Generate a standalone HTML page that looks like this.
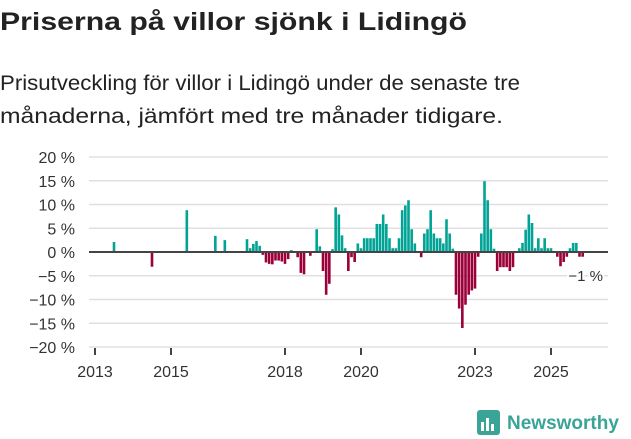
<!DOCTYPE html>
<html><head><meta charset="utf-8"><style>
html,body{margin:0;padding:0;background:#fff;}
svg{display:block;font-family:"Liberation Sans",sans-serif;}
</style></head><body>
<svg width="631" height="439" viewBox="0 0 631 439">
<text x="0" y="30" font-size="25" font-weight="bold" fill="#222" textLength="467" lengthAdjust="spacingAndGlyphs">Priserna på villor sjönk i Lidingö</text>
<text x="0" y="90" font-size="21" fill="#222" textLength="520" lengthAdjust="spacingAndGlyphs">Prisutveckling för villor i Lidingö under de senaste tre</text>
<text x="0" y="123" font-size="21" fill="#222" textLength="503" lengthAdjust="spacingAndGlyphs">månaderna, jämfört med tre månader tidigare.</text>
<g id="grid"></g>
<g id="bars"></g>
<g id="xaxis"></g>
<line x1="89" x2="608" y1="252" y2="252" stroke="#444" stroke-width="2"/>
<text x="603" y="281" font-size="15" fill="#333" text-anchor="end" stroke="#fff" stroke-width="4" paint-order="stroke">−1 %</text>
<g>
<rect x="477" y="410" width="23" height="25" rx="3" fill="#3aa597"/>
<rect x="481" y="422" width="3" height="9" fill="#fff"/><rect x="486" y="418" width="3" height="13" fill="#fff"/><rect x="491" y="424" width="3" height="7" fill="#fff"/>
<text x="507" y="429" font-size="19" font-weight="bold" fill="#3aa597">Newsworthy</text>
</g>
</svg>
<script>
const yTicks=[20,15,10,5,0,-5,-10,-15,-20];
const yTickLabels=["20 %","15 %","10 %","5 %","0 %","−5 %","−10 %","−15 %","−20 %"];
const xTickYears=[2013,2015,2018,2020,2023,2025];
const months=[6,18,29,38,41,48,49,50,51,52,53,54,55,56,57,58,59,60,61,62,64,65,66,68,70,71,72,73,74,75,76,77,78,79,80,81,82,83,84,85,86,87,88,89,90,91,92,93,94,95,96,97,98,99,100,101,103,104,105,106,107,108,109,110,111,112,113,114,115,116,117,118,119,120,121,122,123,124,125,126,127,128,129,130,131,132,134,135,136,137,138,139,140,141,142,143,144,146,147,148,149,150,151,152,153,154];
const values=[2.1,-3.1,8.8,3.4,2.5,2.7,0.8,1.7,2.3,1.3,-0.6,-2.2,-2.5,-2.6,-1.8,-1.8,-2.0,-2.5,-1.5,0.4,-1.1,-4.4,-4.7,-0.8,4.8,1.2,-4.0,-9.0,-6.7,0.6,9.4,7.9,3.5,0.8,-4.0,-1.1,-2.1,1.8,0.8,2.9,2.9,2.9,2.9,5.9,5.9,7.9,5.9,2.9,0.8,0.8,2.9,8.8,9.8,10.9,4.8,1.8,-1.1,3.9,4.8,8.8,3.9,2.9,2.9,1.8,6.9,3.9,0.7,-9.0,-11.9,-16.0,-11.1,-9.0,-8.1,-7.7,-1.0,3.9,14.9,10.9,4.8,0.7,-4.0,-3.2,-3.2,-3.2,-4.0,-3.2,0.8,1.9,4.7,7.9,6.1,0.8,2.9,0.8,2.9,0.8,0.8,-1.0,-3.0,-2.1,-1.0,0.8,1.9,1.9,-1.0,-1.0];
const NS='http://www.w3.org/2000/svg';
function y(v){return 252-v*4.75;}
function x(m){return 95+m*38/12;}
const grid=document.getElementById('grid');
yTicks.forEach((t,i)=>{
  const l=document.createElementNS(NS,'line');
  l.setAttribute('x1',89);l.setAttribute('x2',608);l.setAttribute('y1',y(t));l.setAttribute('y2',y(t));
  l.setAttribute('stroke','#e0e0e0');l.setAttribute('stroke-width','1.5');
  
  
  grid.appendChild(l);
  const tx=document.createElementNS(NS,'text');
  tx.setAttribute('x',75);tx.setAttribute('y',y(t)+6);tx.setAttribute('text-anchor','end');
  tx.setAttribute('font-size','16');tx.setAttribute('fill','#333');
  tx.textContent=yTickLabels[i];
  
  
  grid.appendChild(tx);
});
const bars=document.getElementById('bars');
months.forEach((m,i)=>{
  const v=values[i];
  const r=document.createElementNS(NS,'rect');
  r.setAttribute('x',x(m)-1.3);r.setAttribute('width',2.6);
  r.setAttribute('y',Math.min(y(v),252));r.setAttribute('height',Math.abs(y(v)-252));
  r.setAttribute('fill',v>=0?'#00a396':'#9b0039');
  
  
  bars.appendChild(r);
});
const xa=document.getElementById('xaxis');
xTickYears.forEach(yr=>{
  const px=x((yr-2013)*12);
  const l=document.createElementNS(NS,'line');
  l.setAttribute('x1',px);l.setAttribute('x2',px);l.setAttribute('y1',348);l.setAttribute('y2',355);
  l.setAttribute('stroke','#444');l.setAttribute('stroke-width','2');
  
  
  xa.appendChild(l);
  const t=document.createElementNS(NS,'text');
  t.setAttribute('x',px);t.setAttribute('y',377);t.setAttribute('text-anchor','middle');
  t.setAttribute('font-size','16');t.setAttribute('fill','#333');
  t.textContent=yr;
  
  
  xa.appendChild(t);
});
</script>
</body></html>
